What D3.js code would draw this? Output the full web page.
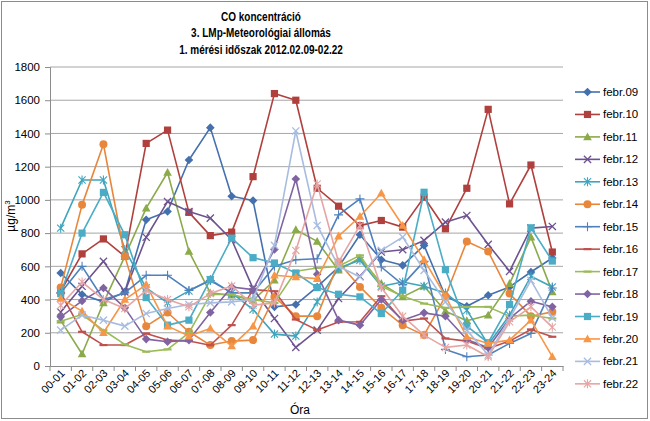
<!DOCTYPE html>
<html><head><meta charset="utf-8">
<script src="https://cdn.jsdelivr.net/npm/d3@7"></script>
<style>body{margin:0;background:#fff}svg{display:block}text{font-family:"Liberation Sans",Arial,sans-serif}</style>
</head><body><svg id="c" width="650" height="421"></svg>
<script>
const categories = ["00-01","01-02","02-03","03-04","04-05","05-06","06-07","07-08","08-09","09-10","10-11","11-12","12-13","13-14","14-15","15-16","16-17","17-18","18-19","19-20","20-21","21-22","22-23","23-24"];
const seriesNames = ["febr.09","febr.10","febr.11","febr.12","febr.13","febr.14","febr.15","febr.16","febr.17","febr.18","febr.19","febr.20","febr.21","febr.22"];
const feb09 = [560,430,386,446,880,930,1240,1435,1022,996,356,370,476,596,790,640,606,726,420,360,426,476,566,650];
const feb10 = [450,675,765,660,1340,1420,925,785,806,1140,1640,1600,1070,962,845,876,836,1016,826,1070,1545,976,1210,686];
const feb11 = [275,72,380,660,950,1165,690,440,426,395,516,820,750,576,650,496,416,480,330,272,306,496,776,446];
const feb12 = [325,480,630,446,775,990,930,890,760,466,286,112,216,406,540,686,700,756,866,906,732,570,830,840];
const feb13 = [830,1120,1120,700,470,380,452,520,440,340,192,180,386,590,636,480,506,480,440,336,130,306,540,476];
const feb14 = [472,970,1335,660,240,322,206,126,150,156,416,300,300,625,476,350,246,186,420,750,690,436,300,326];
const feb15 = [440,600,400,440,546,546,455,515,440,440,600,640,646,910,1006,596,490,630,100,56,66,136,196,470];
const feb16 = [440,206,126,126,196,156,150,125,246,460,450,280,216,265,266,420,270,286,166,150,106,150,220,176];
const feb17 = [270,310,215,130,86,100,200,430,430,400,380,570,590,600,666,480,420,376,350,356,356,300,306,286];
const feb18 = [296,392,470,350,162,146,156,322,476,460,702,1126,552,276,246,400,276,320,300,160,110,286,390,356];
const feb19 = [436,800,1045,790,412,246,276,520,770,652,620,560,472,432,416,316,456,1046,580,240,140,370,832,632];
const feb20 = [406,330,200,400,490,240,180,226,120,240,546,536,526,782,900,1040,846,640,420,176,136,156,276,56];
const feb21 = [216,306,276,240,316,346,370,380,386,400,726,1415,846,600,536,696,776,576,386,216,66,286,516,290];
const feb22 = [366,506,400,346,455,400,356,436,482,366,380,696,1096,626,846,472,300,186,112,126,56,266,356,234];
const seriesValues = [feb09,feb10,feb11,feb12,feb13,feb14,feb15,feb16,feb17,feb18,feb19,feb20,feb21,feb22];
const yTicks = [0,200,400,600,800,1000,1200,1400,1600,1800];
const titleLines = ["CO koncentráció","3. LMp-Meteorológiai állomás","1. mérési időszak 2012.02.09-02.22"];

const colors = ["#4470AE","#B0403D","#8BAA4A","#6D5290","#3FA4BD","#E8873C","#4F81BD","#C0504D","#9BBB59","#8064A2","#4BACC6","#F79646","#A8BCE0","#E6A5A4"];
const markers = ["diamond","square","triangle","x","asterisk","circle","plus","dash","dash","diamond","square","triangle","x","asterisk"];

const svg = d3.select("#c");
svg.append("rect").attr("x",1.5).attr("y",1.5).attr("width",646).attr("height",417).attr("fill","#fff").attr("stroke","#8c8c8c").attr("stroke-width",1);

const M = {l:50,r:563,t:67,b:366};
const x = d3.scaleBand().domain(categories).range([M.l,M.r]);
const y = d3.scaleLinear().domain([0,1800]).range([M.b,M.t]);

// title (condensed look)
const tg = svg.append("g").attr("transform","translate(261,0) scale(0.8,1)");
titleLines.forEach((s,i)=>tg.append("text").attr("x",0).attr("y",21+i*16.5).attr("text-anchor","middle")
  .attr("font-weight","bold").attr("font-size",12.5).attr("fill","#000").text(s));

// grid
svg.append("g").selectAll("line").data(yTicks.slice(1)).join("line")
  .attr("x1",M.l).attr("x2",M.r).attr("y1",d=>y(d)).attr("y2",d=>y(d)).attr("stroke","#a6a6a6").attr("stroke-width",1);

// y axis
const ya = svg.append("g").attr("transform",`translate(${M.l},0)`).call(d3.axisLeft(y).tickValues(yTicks).tickFormat(d3.format("d")).tickSize(5).tickPadding(5));
ya.select(".domain").attr("stroke","#8c8c8c");
ya.selectAll(".tick line").attr("stroke","#8c8c8c");
ya.selectAll("text").attr("font-size",11.5).attr("fill","#000").attr("font-family",'"Liberation Sans",Arial,sans-serif');

// x axis
const xa = svg.append("g").attr("transform",`translate(0,${M.b})`).call(d3.axisBottom(x).tickSize(0).tickPadding(0));
xa.select(".domain").attr("stroke","#8c8c8c");
xa.selectAll(".tick text").attr("font-size",11).attr("fill","#000")
  .attr("font-family",'"Liberation Sans",Arial,sans-serif')
  .attr("text-anchor","end").attr("dy",0).attr("transform","translate(5,8) rotate(-45)");
svg.append("g").selectAll("line").data(categories.map((c,i)=>i).concat([categories.length])).join("line")
  .attr("x1",i=>M.l+i*x.step()).attr("x2",i=>M.l+i*x.step()).attr("y1",M.b).attr("y2",M.b+5).attr("stroke","#8c8c8c");

// axis titles
svg.append("text").attr("x",300).attr("y",414).attr("text-anchor","middle").attr("font-size",12).text("Óra");
const yl = svg.append("text").attr("transform","translate(15,216) rotate(-90)").attr("text-anchor","middle").attr("font-size",12);
yl.append("tspan").text("µg/m");
yl.append("tspan").attr("font-size",8).attr("dy",-5).text("3");

function drawMarker(g, type, cx, cy, color){
  const s = 3.6;
  if(type==="diamond"){ g.append("path").attr("d",`M${cx},${cy-4.3}L${cx+4.3},${cy}L${cx},${cy+4.3}L${cx-4.3},${cy}Z`).attr("fill",color); }
  else if(type==="square"){ g.append("rect").attr("x",cx-3.6).attr("y",cy-3.6).attr("width",7.2).attr("height",7.2).attr("fill",color); }
  else if(type==="triangle"){ g.append("path").attr("d",`M${cx},${cy-4.5}L${cx+4.3},${cy+3.3}L${cx-4.3},${cy+3.3}Z`).attr("fill",color); }
  else if(type==="circle"){ g.append("circle").attr("cx",cx).attr("cy",cy).attr("r",4).attr("fill",color); }
  else if(type==="x"){ g.append("path").attr("d",`M${cx-s},${cy-s}L${cx+s},${cy+s}M${cx-s},${cy+s}L${cx+s},${cy-s}`).attr("stroke",color).attr("stroke-width",1.3).attr("fill","none"); }
  else if(type==="asterisk"){ g.append("path").attr("d",`M${cx-s},${cy-s}L${cx+s},${cy+s}M${cx-s},${cy+s}L${cx+s},${cy-s}M${cx},${cy-4.5}L${cx},${cy+4.5}`).attr("stroke",color).attr("stroke-width",1.1).attr("fill","none"); }
  else if(type==="plus"){ g.append("path").attr("d",`M${cx-4.5},${cy}L${cx+4.5},${cy}M${cx},${cy-4.5}L${cx},${cy+4.5}`).attr("stroke",color).attr("stroke-width",1.1).attr("fill","none"); }
  else if(type==="dash"){ g.append("path").attr("d",`M${cx-4},${cy}L${cx+4},${cy}`).attr("stroke",color).attr("stroke-width",2.2).attr("fill","none"); }
}

const line = d3.line().x((d,i)=>x(categories[i])+x.bandwidth()/2).y(d=>y(d));
seriesValues.forEach((vals,si)=>{
  const g = svg.append("g");
  g.append("path").attr("d",line(vals)).attr("fill","none").attr("stroke",colors[si]).attr("stroke-width",1.6).attr("stroke-linejoin","round");
  vals.forEach((v,i)=>drawMarker(g, markers[si], x(categories[i])+x.bandwidth()/2, y(v), colors[si]));
});

// legend
const lg = svg.append("g");
seriesNames.forEach((n,i)=>{
  const ly = 92 + i*22.45;
  lg.append("line").attr("x1",575).attr("x2",600).attr("y1",ly).attr("y2",ly).attr("stroke",colors[i]).attr("stroke-width",1.6);
  drawMarker(lg, markers[i], 587.5, ly, colors[i]);
  lg.append("text").attr("x",603).attr("y",ly+4).attr("font-size",11.5).text(n);
});
</script></body></html>
